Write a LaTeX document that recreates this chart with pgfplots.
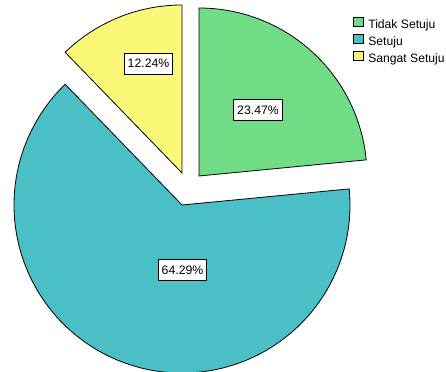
\documentclass[border=0pt]{standalone}
\usepackage{pgfplots}
\pgfplotsset{compat=1.18}
\usepackage{fontspec}
\setmainfont{Liberation Sans}
\definecolor{cGreen}{HTML}{70DC86}
\definecolor{cTeal}{HTML}{4AC0C6}
\definecolor{cYellow}{HTML}{FAF878}
% percentages
\def\pA{23.47}% Tidak Setuju
\def\pB{64.29}% Setuju
\def\pC{12.24}% Sangat Setuju
\pgfmathsetmacro{\aA}{90}
\pgfmathsetmacro{\aB}{90-3.6*\pA}
\pgfmathsetmacro{\aC}{\aB-3.6*\pB}
\pgfmathsetmacro{\aD}{\aC-3.6*\pC}
\def\R{168}
\begin{document}
\begin{tikzpicture}
\begin{axis}[
  width=446bp, height=372bp, scale only axis,
  xmin=0, xmax=446, ymin=0, ymax=372, y dir=reverse,
  hide axis, clip=false,
  legend style={draw=none, fill=none, at={(axis cs:353,17)}, anchor=north west,
    font=\fontsize{12.2}{14}\selectfont, row sep=2bp, inner sep=0pt,
    nodes={inner sep=0pt, text height=9bp, text depth=3bp},
    /tikz/every odd column/.append style={column sep=5bp}},
  legend cell align=left,
  legend image code/.code={\draw[#1, draw=black, line width=0.6bp] (0bp,-0.5bp) rectangle (9.5bp,8.5bp);},
  every axis plot/.append style={draw=black, line width=0.8bp, line join=miter},
]
% Tidak Setuju (exploded)
\addplot[fill=cGreen, domain=\aB:\aA, samples=120]
  ({199 + \R*cos(x)}, {176 - \R*sin(x)}) -- (axis cs:199,176) -- cycle;
\addlegendentry{Tidak Setuju}
% Setuju
\addplot[fill=cTeal, domain=\aC:\aB, samples=240]
  ({182 + \R*cos(x)}, {205 - \R*sin(x)}) -- (axis cs:182,205) -- cycle;
\addlegendentry{Setuju}
% Sangat Setuju (exploded)
\addplot[fill=cYellow, domain=\aD:\aC, samples=80]
  ({182 + \R*cos(x)}, {173 - \R*sin(x)}) -- (axis cs:182,173) -- cycle;
\addlegendentry{Sangat Setuju}
\tikzset{lab/.style={draw=black, fill=white, line width=0.8bp, inner xsep=3.5bp,
  minimum height=21bp, font=\fontsize{12.3}{14}\selectfont}}
\node[lab] at (axis cs:258,110) {23.47\%};
\node[lab] at (axis cs:182.5,270) {64.29\%};
\node[lab] at (axis cs:148.5,63.5) {12.24\%};
\end{axis}
\pgfresetboundingbox
\path (current axis.south west) rectangle (current axis.north east);
\end{tikzpicture}
\end{document}
